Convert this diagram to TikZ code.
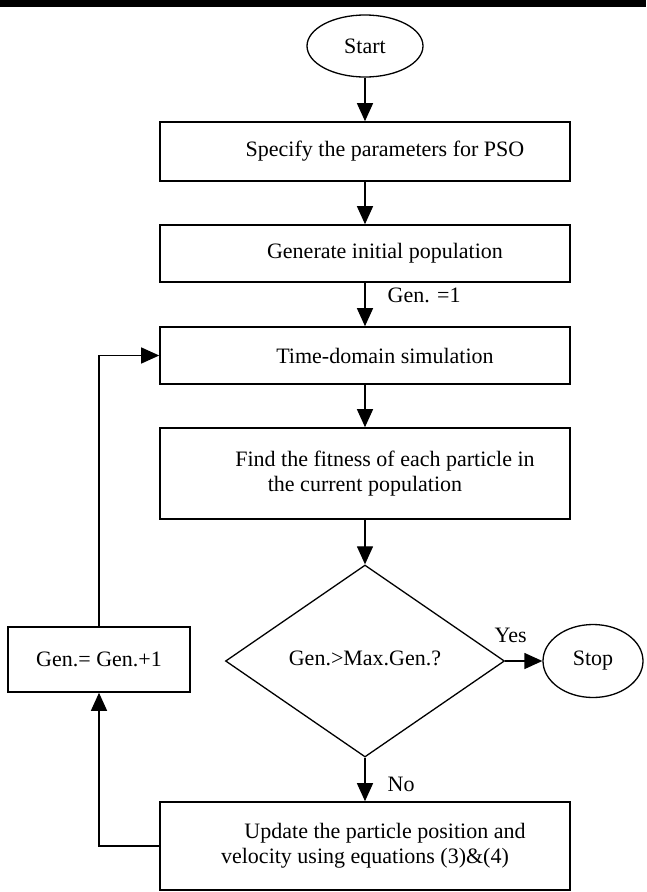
\documentclass[tikz,border=0pt]{standalone}
\usepackage{fontspec}
\setmainfont{Liberation Serif}
\usetikzlibrary{shapes.geometric,arrows.meta}
\begin{document}
\begin{tikzpicture}[x=1pt,y=-1pt,
		font=\fontsize{22}{25}\selectfont,
		box/.style={draw,line width=1.6pt,rectangle,minimum width=410pt,inner sep=0pt,align=center},
		term/.style={draw,line width=1.3pt,ellipse,inner sep=0pt},
		decision/.style={draw,line width=1.3pt,diamond,minimum width=279pt,minimum height=192pt,inner sep=0pt},
		arrow/.style={line width=1.3pt,-{Triangle[length=18pt,width=16pt]}},
		lbl/.style={inner sep=0pt}]
		\useasboundingbox (0,0) rectangle (646,892);
		\fill (0,0) rectangle (646,7);
		
		% main column
		\node [term, minimum width=116pt, minimum height=62pt] (start) at (365,46) {Start};
		\node [box, minimum height=59pt] (params) at (365,151.5) {\hspace*{40pt}Specify the parameters for PSO};
		\node [box, minimum height=57pt] (init) at (365,253.5) {\hspace*{40pt}Generate initial population};
		\node [box, minimum height=57pt] (sim) at (365,355.5) {\hspace*{40pt}Time-domain simulation};
		\node [box, minimum height=91pt] (fit) at (365,473.5) {\hspace*{40pt}Find the fitness of each particle in\\the current population};
		\node [decision] (check) at (365,661) {\raisebox{-4pt}[0pt][0pt]{Gen.>Max.Gen.?}};
		\node [term, minimum width=100pt, minimum height=73pt] (stop) at (593,661) {Stop};
		\node [box, minimum height=88pt] (update) at (365,846) {\hspace*{40pt}Update the particle position and\\velocity using equations (3)\&(4)};
		\node [box, minimum width=182pt, minimum height=65pt] (incr) at (99,659.5) {Gen.= Gen.+1};
		
		\draw [arrow] (start) -- (params);
		\draw [arrow] (params) -- (init);
		\draw [arrow] (init) -- node [lbl, pos=0.3, right=22pt] {Gen. =1} (sim);
		\draw [arrow] (sim) -- (fit);
		\draw [arrow] (fit) -- (check);
		\draw [arrow] (check.east) -- node [lbl, pos=0.15, above=18pt] {Yes} (stop.west);
		\draw [arrow] (check.south) -- node [lbl, pos=0.62, right=22pt] {No} (update.north);
		
		% loop back
		\draw [arrow] (update.west) -| (incr.south);
		\draw [arrow] (incr.north) |- (sim.west);
		
		\end{tikzpicture}
\end{document}
